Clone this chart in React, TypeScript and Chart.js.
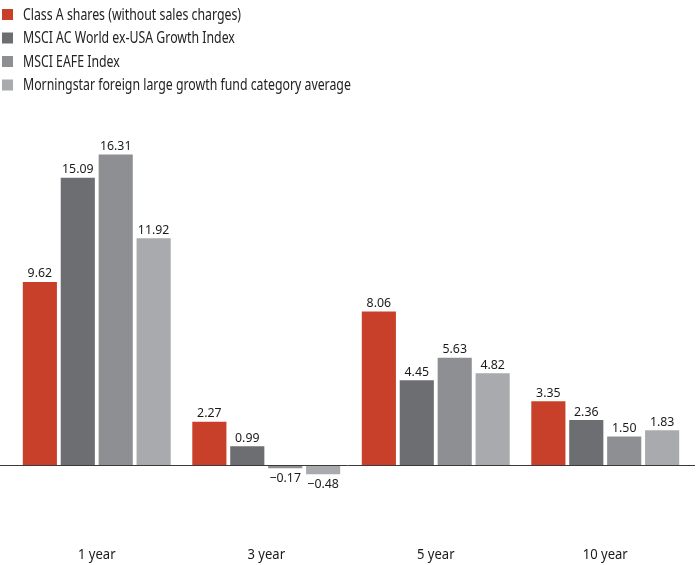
import React, { useEffect, useRef } from "react";
import { Chart, registerables } from "chart.js";

Chart.register(...registerables);

const categories = ["1 year", "3 year", "5 year", "10 year"];
const seriesLabels = [
  "Class A shares (without sales charges)",
  "MSCI AC World ex-USA Growth Index",
  "MSCI EAFE Index",
  "Morningstar foreign large growth fund category average",
];
const classA = [9.62, 2.27, 8.06, 3.35];
const msciAcwi = [15.09, 0.99, 4.45, 2.36];
const msciEafe = [16.31, -0.17, 5.63, 1.5];
const morningstar = [11.92, -0.48, 4.82, 1.83];
const seriesColors = ["#c9402a", "#6d6e71", "#8e8f93", "#a9aaad"];

const FONT = "'Noto Sans', 'Open Sans', sans-serif";

function drawScaledText(ctx: any, txt: string, x: number, y: number, sx: number, align: string) {
  ctx.save();
  ctx.translate(x, y);
  ctx.scale(sx, 1);
  ctx.textAlign = align;
  ctx.fillText(txt, 0, 0);
  ctx.restore();
}

const legendPlugin = {
  id: "customLegend",
  afterDraw(chart: any) {
    const ctx = chart.ctx;
    ctx.save();
    ctx.font = `15.5px ${FONT}`;
    const sx = 218 / ctx.measureText(chart.data.datasets[0].label).width;
    const baselines = [19.5, 43, 66.5, 90];
    chart.data.datasets.forEach((ds: any, i: number) => {
      const b = baselines[i];
      ctx.fillStyle = ds.backgroundColor;
      ctx.fillRect(2, b - 10.5, 11, 11);
      ctx.fillStyle = "#222";
      ctx.textBaseline = "alphabetic";
      drawScaledText(ctx, ds.label, 23, b, sx, "left");
    });
    ctx.restore();
  },
};

const valueLabelPlugin = {
  id: "valueLabels",
  afterDatasetsDraw(chart: any) {
    const ctx = chart.ctx;
    ctx.save();
    ctx.font = `13px ${FONT}`;
    ctx.fillStyle = "#1a1a1a";
    ctx.textBaseline = "alphabetic";
    chart.data.datasets.forEach((ds: any, i: number) => {
      const meta = chart.getDatasetMeta(i);
      meta.data.forEach((bar: any, j: number) => {
        const v = ds.data[j];
        const txt = (v < 0 ? "\u2212" : "") + Math.abs(v).toFixed(2);
        if (v >= 0) {
          drawScaledText(ctx, txt, bar.x, bar.y - 4.5, 0.95, "center");
        } else {
          drawScaledText(ctx, txt, bar.x, bar.y + 14, 0.95, "center");
        }
      });
    });
    ctx.restore();
  },
};

const categoryLabelPlugin = {
  id: "categoryLabels",
  afterDraw(chart: any) {
    const ctx = chart.ctx;
    const xs = chart.scales.x;
    ctx.save();
    ctx.font = `13.5px ${FONT}`;
    ctx.fillStyle = "#1a1a1a";
    ctx.textBaseline = "alphabetic";
    const sx = 45 / ctx.measureText(categories[3]).width;
    categories.forEach((c, i) => {
      drawScaledText(ctx, c, xs.getPixelForValue(i), 559, sx, "center");
    });
    ctx.restore();
  },
};

const baselinePlugin = {
  id: "baseline",
  afterDatasetsDraw(chart: any) {
    const ctx = chart.ctx;
    const y = Math.round(chart.scales.y.getPixelForValue(0)) + 0.5;
    ctx.save();
    ctx.strokeStyle = "#3a3a3a";
    ctx.lineWidth = 1;
    ctx.beginPath();
    ctx.moveTo(0, y);
    ctx.lineTo(chart.chartArea.right + 5, y);
    ctx.stroke();
    ctx.restore();
  },
};

export default function App() {
  const ref = useRef<HTMLCanvasElement>(null);
  useEffect(() => {
    document.body.style.margin = "0";
    const seriesData = [classA, msciAcwi, msciEafe, morningstar];
    const chart = new Chart(ref.current!, {
      type: "bar",
      data: {
        labels: categories,
        datasets: seriesData.map((d, i) => ({
          label: seriesLabels[i],
          data: d,
          backgroundColor: seriesColors[i],
          borderWidth: 0,
          categoryPercentage: 0.895,
          barPercentage: 0.9,
        })),
      },
      options: {
        animation: false,
        responsive: false,
        layout: { padding: { top: 110, left: 12, right: 10, bottom: 35 } },
        plugins: { legend: { display: false }, tooltip: { enabled: false } },
        scales: {
          x: {
            display: false,
          },
          y: {
            display: false,
            min: -3.416,
            max: 18.655,
          },
        },
      },
      plugins: [legendPlugin, valueLabelPlugin, baselinePlugin, categoryLabelPlugin],
    });
    return () => chart.destroy();
  }, []);
  return <canvas ref={ref} width={700} height={565} style={{ display: "block" }} />;
}
